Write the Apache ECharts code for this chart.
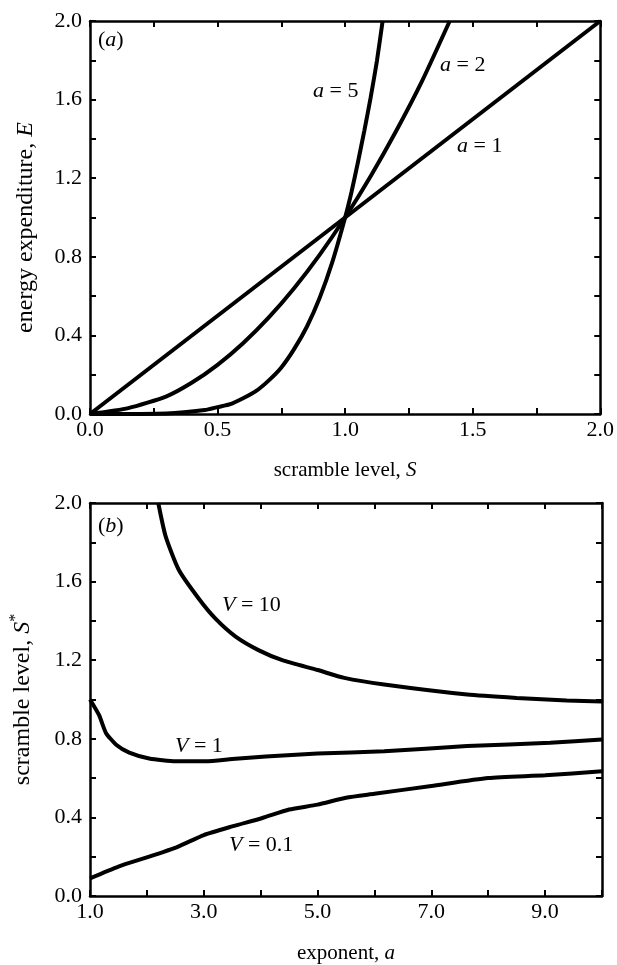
<!DOCTYPE html>
<html>
<head>
<meta charset="utf-8">
<script src="https://cdn.jsdelivr.net/npm/echarts@6/dist/echarts.min.js"></script>
<style>
  html, body { margin: 0; padding: 0; background: #fff; }
  #chart { width: 617px; height: 965px; }
</style>
</head>
<body>
<div id="chart"></div>
<script>
// (a) energy expenditure vs scramble level
var sA1 = [0, 2.0];
var eA1 = [0, 2.0];
var sA2 = [0, 0.15, 0.3, 0.4, 0.5, 0.6, 0.7, 0.8, 0.9, 1.0, 1.1, 1.2, 1.3, 1.41];
var eA2 = [0, 0.03, 0.09, 0.16, 0.25, 0.36, 0.49, 0.64, 0.81, 1.0, 1.21, 1.44, 1.69, 2.0];
var sA5 = [0, 0.3, 0.45, 0.5, 0.55, 0.6, 0.65, 0.7, 0.75, 0.8, 0.85, 0.9, 0.95, 1.0, 1.025, 1.05, 1.075, 1.1, 1.125, 1.147];
var eA5 = [0, 0.003, 0.02, 0.035, 0.05, 0.08, 0.116, 0.17, 0.237, 0.33, 0.444, 0.59, 0.774, 1.0, 1.13, 1.28, 1.44, 1.61, 1.8, 2.0];

// (b) optimal scramble level vs exponent
var aV10 = [2.2, 2.33, 2.56, 2.92, 3.21, 3.56, 3.97, 4.38, 5.0, 5.47, 6.17, 7.63, 8.5, 9.38, 10];
var yV10 = [2.0, 1.83, 1.66, 1.51, 1.41, 1.32, 1.25, 1.2, 1.15, 1.11, 1.076, 1.025, 1.008, 0.995, 0.99];
var aV1 = [1.0, 1.16, 1.28, 1.46, 1.69, 2.04, 2.51, 3.03, 3.5, 4.09, 5.0, 6.17, 7.63, 9.09, 10];
var yV1 = [1.0, 0.92, 0.83, 0.77, 0.73, 0.70, 0.686, 0.686, 0.697, 0.71, 0.725, 0.737, 0.763, 0.78, 0.797];
var aV01 = [1.0, 1.5, 2.04, 2.54, 3.0, 3.5, 4.03, 4.5, 5.0, 5.5, 6.0, 7.0, 8.0, 9.0, 10];
var yV01 = [0.09, 0.15, 0.20, 0.25, 0.31, 0.354, 0.397, 0.44, 0.465, 0.50, 0.52, 0.56, 0.60, 0.614, 0.635];

var FONT = 'Liberation Serif';

function pairs(xs, ys) {
  return xs.map(function (x, i) { return [x, ys[i]]; });
}
function every(step) {
  return function (v) {
    var k = v / step;
    return Math.abs(k - Math.round(k)) < 1e-6 ? v.toFixed(1) : '';
  };
}
function axisBase(extra) {
  var o = {
    type: 'value',
    axisLine: { show: true, onZero: false, lineStyle: { color: '#000', width: 2.5 } },
    axisTick: { show: true, inside: true, length: 6, lineStyle: { color: '#000', width: 2 } },
    splitLine: { show: false },
    axisLabel: { show: false }
  };
  for (var k in extra) o[k] = extra[k];
  return o;
}
function mainLabel(fmt, margin) {
  return { show: true, color: '#000', fontFamily: FONT, fontSize: 22, margin: margin, formatter: fmt };
}
function line(xs, ys, idx) {
  return {
    type: 'line',
    xAxisIndex: idx, yAxisIndex: idx,
    data: pairs(xs, ys),
    showSymbol: false,
    smooth: 0.2,
    lineStyle: { color: '#000', width: 4 },
    silent: true
  };
}
function note(x, y, text) {
  return {
    type: 'text', x: x, y: y,
    style: {
      text: text, fill: '#000', fontFamily: FONT, fontSize: 22, verticalAlign: 'middle',
      rich: {
        i: { fontFamily: FONT, fontSize: 22, fontStyle: 'italic', fill: '#000' }
      }
    }
  };
}

var chart = echarts.init(document.getElementById('chart'));
chart.setOption({
  backgroundColor: '#fff',
  animation: false,
  grid: [
    { left: 90, top: 21, width: 512, height: 393 },
    { left: 90, top: 503, width: 512, height: 393 }
  ],
  xAxis: [
    axisBase({ gridIndex: 0, position: 'bottom', min: 0, max: 2, interval: 0.25,
      axisLabel: mainLabel(every(0.5), 5),
      name: 'scramble level, {i|S}', nameLocation: 'middle', nameGap: 46,
      nameTextStyle: { color: '#000', fontFamily: FONT, fontSize: 21,
        rich: { i: { fontFamily: FONT, fontSize: 21, fontStyle: 'italic' } } } }),
    axisBase({ gridIndex: 0, position: 'top', min: 0, max: 2, interval: 0.25 }),
    axisBase({ gridIndex: 1, position: 'bottom', min: 1, max: 10, interval: 1,
      axisLabel: mainLabel(function (v) { return v % 2 === 1 ? v.toFixed(1) : ''; }, 5),
      name: 'exponent, {i|a}', nameLocation: 'middle', nameGap: 47,
      nameTextStyle: { color: '#000', fontFamily: FONT, fontSize: 21,
        rich: { i: { fontFamily: FONT, fontSize: 21, fontStyle: 'italic' } } } }),
    axisBase({ gridIndex: 1, position: 'top', min: 1, max: 10, interval: 1 })
  ],
  yAxis: [
    axisBase({ gridIndex: 0, position: 'left', min: 0, max: 2, interval: 0.2,
      axisLabel: mainLabel(every(0.4), 8),
      name: 'energy expenditure, {i|E}', nameLocation: 'middle', nameGap: 52,
      nameTextStyle: { color: '#000', fontFamily: FONT, fontSize: 24, padding: [0, 20, 0, 0],
        rich: { i: { fontFamily: FONT, fontSize: 24, fontStyle: 'italic' } } } }),
    axisBase({ gridIndex: 0, position: 'right', min: 0, max: 2, interval: 0.2 }),
    axisBase({ gridIndex: 1, position: 'left', min: 0, max: 2, interval: 0.2,
      axisLabel: mainLabel(every(0.4), 8),
      name: 'scramble level, {i|S}{s|*}', nameLocation: 'middle', nameGap: 52,
      nameTextStyle: { color: '#000', fontFamily: FONT, fontSize: 24,
        rich: {
          i: { fontFamily: FONT, fontSize: 24, fontStyle: 'italic' },
          s: { fontFamily: FONT, fontSize: 16, verticalAlign: 'bottom', padding: [0, 0, 14, 0] }
        } } }),
    axisBase({ gridIndex: 1, position: 'right', min: 0, max: 2, interval: 0.2 })
  ],
  series: [
    line(sA1, eA1, 0),
    line(sA2, eA2, 0),
    line(sA5, eA5, 0),
    line(aV10, yV10, 2),
    line(aV1, yV1, 2),
    line(aV01, yV01, 2)
  ],
  graphic: [
    note(98, 40, '({i|a})'),
    note(313, 91, '{i|a} = 5'),
    note(440, 65, '{i|a} = 2'),
    note(457, 146, '{i|a} = 1'),
    note(98, 526, '({i|b})'),
    note(222, 605, '{i|V} = 10'),
    note(175, 746, '{i|V} = 1'),
    note(229, 845, '{i|V} = 0.1')
  ]
});
</script>
</body>
</html>
